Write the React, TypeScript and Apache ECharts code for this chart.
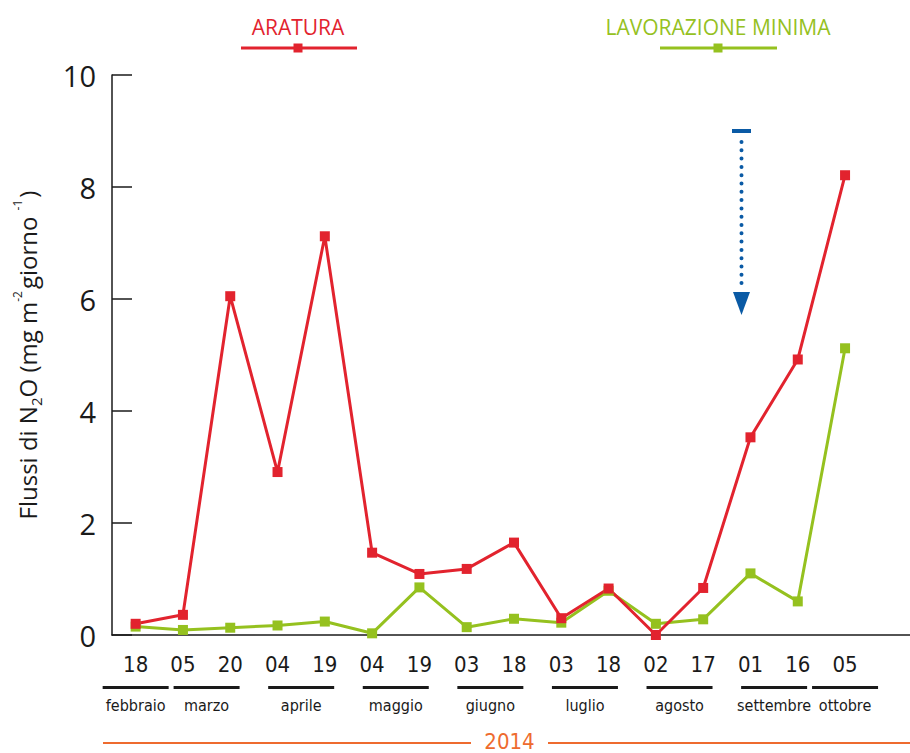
import React, { useEffect, useRef } from 'react';
import * as echarts from 'echarts';

const days = ['18', '05', '20', '04', '19', '04', '19', '03', '18', '03', '18', '02', '17', '01', '16', '05', ''];
const aratura = [0.2, 0.36, 6.05, 2.91, 7.12, 1.47, 1.09, 1.18, 1.65, 0.3, 0.83, 0.0, 0.84, 3.53, 4.92, 8.21, null];
const lavorazioneMinima = [0.15, 0.09, 0.13, 0.17, 0.24, 0.03, 0.85, 0.14, 0.29, 0.22, 0.79, 0.2, 0.28, 1.1, 0.6, 5.12, null];
const months = ['febbraio', 'marzo', 'aprile', 'maggio', 'giugno', 'luglio', 'agosto', 'settembre', 'ottobre'];
const monthPositions = [0.5, 2, 4, 6, 8, 10, 12, 14, 15.5];
const yMin = 0;
const yMax = 10;
const yStep = 2;
const yearLabel = '2014';
const seriesNames = ['ARATURA', 'LAVORAZIONE MINIMA'];

const RED = '#e2232e';
const GREEN = '#95c11f';
const BLUE = '#0a5aa5';
const ORANGE = '#ee6b2f';
const INK = '#1a1a1a';
const NARROW = "'Liberation Sans Narrow', 'DejaVu Sans Condensed', sans-serif";
const SANS = "'Open Sans', 'Noto Sans', sans-serif";

export default function App() {
  const ref = useRef<HTMLDivElement>(null);

  useEffect(() => {
    if (!ref.current) return;
    const chart = echarts.init(ref.current, undefined, { renderer: 'svg' });

    const legendItem = (name: string, color: string, cx: number, x1: number, x2: number) => [
      {
        type: 'text',
        x: cx,
        y: 27,
        style: { text: name, fill: color, font: `21px ${SANS}`, align: 'center', verticalAlign: 'middle' },
      },
      { type: 'line', shape: { x1, y1: 48, x2, y2: 48 }, style: { stroke: color, lineWidth: 3 } },
      { type: 'rect', shape: { x: cx - 4.5, y: 43.5, width: 9, height: 9 }, style: { fill: color } },
    ];

    chart.setOption({
      animation: false,
      grid: { left: 112, top: 75, width: 804, height: 560, containLabel: false, outerBoundsMode: 'none' },
      xAxis: [
        {
          type: 'category',
          data: days,
          boundaryGap: true,
          axisLine: { lineStyle: { color: INK, width: 1.5 } },
          axisTick: { inside: true, length: 13, lineStyle: { color: INK, width: 1.5 } },
          axisLabel: {
            interval: 0,
            margin: 18,
            color: INK,
            fontSize: 22,
            fontFamily: NARROW,
          },
        },
        {
          type: 'value',
          position: 'bottom',
          min: 0,
          max: days.length,
          interval: 0.5,
          axisLine: { show: false },
          axisTick: { show: false },
          splitLine: { show: false },
          axisLabel: {
            margin: 51,
            showMinLabel: true,
            showMaxLabel: true,
            formatter: (v: number) => {
              const i = monthPositions.findIndex((p) => Math.abs(p - v) < 1e-6);
              return i >= 0 ? `{ln|}\n{m|${months[i]}}` : '';
            },
            rich: {
              ln: { width: 66, height: 3, lineHeight: 3, backgroundColor: INK },
              m: { fontSize: 16, lineHeight: 32, color: INK, fontFamily: NARROW },
            },
          },
        },
      ],
      yAxis: {
        type: 'value',
        min: yMin,
        max: yMax,
        interval: yStep,
        name: '{t|Flussi di N}{sub|2}{t|O (mg m}{sup|-2}{t|giorno }{sup|-1}{t|)}',
        nameLocation: 'middle',
        nameGap: 73,
        nameTextStyle: {
          rich: {
            t: { fontSize: 24, fontFamily: SANS, color: INK, lineHeight: 28, verticalAlign: 'bottom' },
            sub: { fontSize: 15, fontFamily: SANS, color: INK, lineHeight: 16, verticalAlign: 'bottom', padding: [0, 0, -4, 0] },
            sup: { fontSize: 12, fontFamily: SANS, color: INK, lineHeight: 22, verticalAlign: 'top', padding: [0, 2, 0, 0] },
          },
        },
        axisLine: { show: true, lineStyle: { color: INK, width: 1.5 } },
        axisTick: { show: true, inside: true, length: 20, lineStyle: { color: INK, width: 1.5 } },
        axisLabel: { margin: 16, color: INK, fontSize: 29, fontFamily: SANS },
        splitLine: { show: false },
      },
      series: [
        {
          name: seriesNames[1],
          type: 'line',
          data: lavorazioneMinima,
          symbol: 'rect',
          symbolSize: 10,
          lineStyle: { color: GREEN, width: 3 },
          itemStyle: { color: GREEN },
          connectNulls: false,
        },
        {
          name: seriesNames[0],
          type: 'line',
          data: aratura,
          symbol: 'rect',
          symbolSize: 10,
          lineStyle: { color: RED, width: 3 },
          itemStyle: { color: RED },
          connectNulls: false,
        },
      ],
      graphic: [
        ...legendItem(seriesNames[0], RED, 298, 241, 357),
        ...legendItem(seriesNames[1], GREEN, 718, 660, 777),
        { type: 'rect', shape: { x: 732, y: 129, width: 19, height: 4 }, style: { fill: BLUE } },
        {
          type: 'line',
          shape: { x1: 741.5, y1: 142, x2: 741.5, y2: 290 },
          style: { stroke: BLUE, lineWidth: 4, lineDash: [0, 8.3], lineCap: 'round' },
        },
        { type: 'polygon', shape: { points: [[733, 292], [750, 292], [741.5, 315]] }, style: { fill: BLUE } },
        { type: 'line', shape: { x1: 103, y1: 743, x2: 471, y2: 743 }, style: { stroke: ORANGE, lineWidth: 2 } },
        { type: 'line', shape: { x1: 548, y1: 743, x2: 910, y2: 743 }, style: { stroke: ORANGE, lineWidth: 2 } },
        {
          type: 'text',
          x: 509.5,
          y: 741,
          style: { text: yearLabel, fill: ORANGE, font: `22px ${NARROW}`, align: 'center', verticalAlign: 'middle' },
        },
      ],
    });

    return () => chart.dispose();
  }, []);

  return <div ref={ref} style={{ position: 'absolute', left: 0, top: 0, width: 910, height: 753 }} />;
}
